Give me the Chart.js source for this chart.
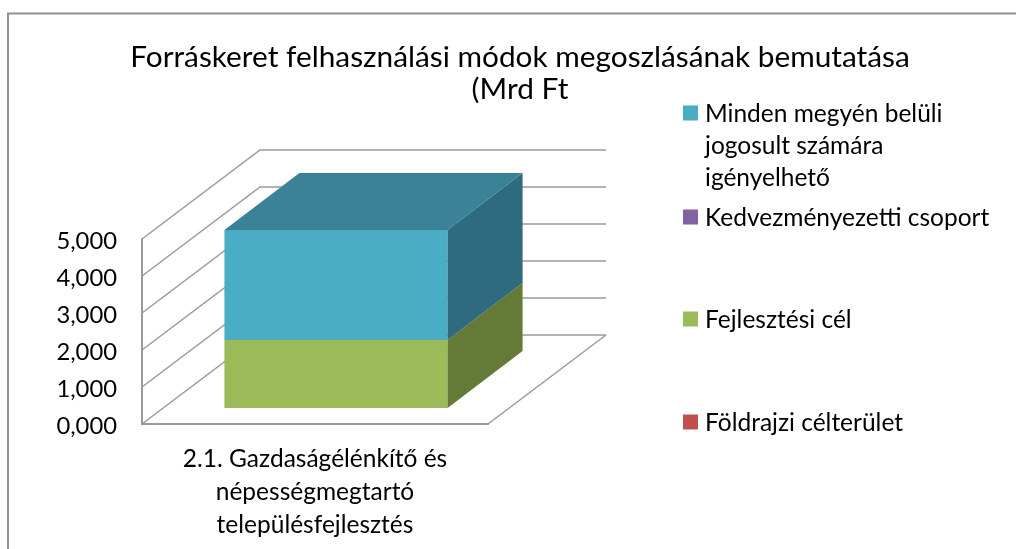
<!DOCTYPE html>
<html>
<head>
<meta charset="utf-8">
<title>Forráskeret felhasználási módok</title>
<script src="https://cdn.jsdelivr.net/npm/chart.js@4"></script>
<style>
    html, body { margin: 0; padding: 0; background: #fff; overflow: hidden; }
    canvas { display: block; }
</style>
</head>
<body>
<canvas id="chart" width="1016" height="549"></canvas>
<script>
// Data
const categories = [['2.1. Gazdaságélénkítő és', 'népességmegtartó', 'településfejlesztés']];
const seriesNames = ['Földrajzi célterület', 'Fejlesztési cél', 'Kedvezményezetti csoport', 'Minden megyén belüli jogosult számára igényelhető'];
const foldrajzi = [0];
const fejlesztesi = [1.84];
const kedvezmenyezetti = [0];
const mindenMegyen = [2.97];
const titleLines = ['Forráskeret felhasználási módok megoszlásának bemutatása', '(Mrd Ft'];
const legendLines = [['Földrajzi célterület'], ['Fejlesztési cél'], ['Kedvezményezetti csoport'], ['Minden megyén belüli', 'jogosult számára', 'igényelhető']];

const colors = ['#C0504D', '#9BBB59', '#8064A2', '#4BACC6'];
const sideColors = ['#7D3431', '#657A37', '#533F6B', '#2F6B7E'];
const topColors = ['#96403C', '#7A9144', '#644E80', '#3B8296'];

const fontFamily = 'Lato, Carlito, sans-serif';
const lineColor = '#9A9A9A';

// 3D look: the floor runs back this far, bars sit a bit in from the front edge
const wallDepth = { x: 118, y: 89 };
const barOffset = { x: 21, y: 16 };
const barDepth = { x: 75, y: 57 };

const backgroundPlugin = {
    id: 'frameAndTitle',
    beforeDraw(chart) {
        const ctx = chart.ctx;
        ctx.save();
        ctx.fillStyle = '#fff';
        ctx.fillRect(0, 0, chart.width, chart.height);
        // the frame is cut off by the screenshot: only left and top edges show
        ctx.strokeStyle = '#8F8F8F';
        ctx.lineWidth = 2;
        ctx.beginPath();
        ctx.moveTo(8, chart.height);
        ctx.lineTo(8, 13.5);
        ctx.lineTo(chart.width, 13.5);
        ctx.stroke();

        ctx.fillStyle = '#000';
        ctx.font = '29.8px ' + fontFamily;
        ctx.textAlign = 'center';
        ctx.textBaseline = 'middle';
        titleLines.forEach((line, i) => ctx.fillText(line, 520, 57 + i * 32));
        ctx.restore();
    }
};

const walls3dPlugin = {
    id: 'walls3d',
    beforeDatasetsDraw(chart) {
        const ctx = chart.ctx;
        const { x: xScale, y: yScale } = chart.scales;
        ctx.save();
        ctx.strokeStyle = lineColor;
        ctx.lineWidth = 1.5;
        yScale.ticks.forEach(tick => {
            const y = yScale.getPixelForValue(tick.value);
            ctx.beginPath();
            ctx.moveTo(xScale.left, y);
            ctx.lineTo(xScale.left + wallDepth.x, y - wallDepth.y);
            ctx.lineTo(xScale.right + wallDepth.x, y - wallDepth.y);
            ctx.stroke();
        });
        // floor edge on the right
        ctx.beginPath();
        ctx.moveTo(xScale.right, yScale.bottom);
        ctx.lineTo(xScale.right + wallDepth.x, yScale.bottom - wallDepth.y);
        ctx.stroke();
        ctx.restore();

        // front faces are drawn by the library, just moved in from the axis edge
        ctx.save();
        ctx.translate(barOffset.x, -barOffset.y);
    },
    afterDatasetsDraw(chart) {
        const ctx = chart.ctx;
        ctx.restore();

        let topIndex = -1;
        chart.data.datasets.forEach((ds, i) => {
            if (ds.data[0] > 0) topIndex = i;
        });
        chart.data.datasets.forEach((ds, i) => {
            if (!(ds.data[0] > 0)) return;
            const bar = chart.getDatasetMeta(i).data[0].getProps(['x', 'y', 'base', 'width'], true);
            const left = bar.x - bar.width / 2 + barOffset.x;
            const right = bar.x + bar.width / 2 + barOffset.x;
            const topY = bar.y - barOffset.y;
            const baseY = bar.base - barOffset.y;

            ctx.fillStyle = sideColors[i];
            ctx.beginPath();
            ctx.moveTo(right, topY);
            ctx.lineTo(right + barDepth.x, topY - barDepth.y);
            ctx.lineTo(right + barDepth.x, baseY - barDepth.y);
            ctx.lineTo(right, baseY);
            ctx.closePath();
            ctx.fill();

            if (i === topIndex) {
                ctx.fillStyle = topColors[i];
                ctx.beginPath();
                ctx.moveTo(left, topY);
                ctx.lineTo(left + barDepth.x, topY - barDepth.y);
                ctx.lineTo(right + barDepth.x, topY - barDepth.y);
                ctx.lineTo(right, topY);
                ctx.closePath();
                ctx.fill();
            }
        });
    }
};

// Legend items are spaced unevenly in the original, so it is drawn by hand
const legendPlugin = {
    id: 'sideLegend',
    afterDraw(chart) {
        const ctx = chart.ctx;
        const itemY = [422, 319, 217, 113];
        ctx.save();
        ctx.font = '24.5px ' + fontFamily;
        ctx.textBaseline = 'middle';
        ctx.textAlign = 'left';
        legendLines.forEach((lines, i) => {
            ctx.fillStyle = colors[i];
            ctx.fillRect(683, itemY[i] - 7.5, 15, 15);
            ctx.fillStyle = '#000';
            lines.forEach((line, j) => ctx.fillText(line, 705, itemY[i] + 1 + j * 32));
        });
        ctx.restore();
    }
};

const makeDataset = (i, values) => ({
    label: seriesNames[i],
    data: values,
    backgroundColor: colors[i],
    borderWidth: 0,
    barPercentage: 0.645,
    categoryPercentage: 1
});

new Chart(document.getElementById('chart'), {
    type: 'bar',
    data: {
        labels: categories,
        datasets: [
            makeDataset(0, foldrajzi),
            makeDataset(1, fejlesztesi),
            makeDataset(2, kedvezmenyezetti),
            makeDataset(3, mindenMegyen)
        ]
    },
    plugins: [backgroundPlugin, walls3dPlugin, legendPlugin],
    options: {
        responsive: false,
        animation: false,
        layout: {
            padding: { left: 0, right: 528, top: 239, bottom: 5 }
        },
        plugins: {
            legend: { display: false },
            title: { display: false },
            tooltip: { enabled: false }
        },
        scales: {
            x: {
                stacked: true,
                grid: { display: false },
                border: { color: lineColor, width: 2 },
                afterFit: scale => { scale.height = 120; },
                ticks: {
                    color: '#000',
                    maxRotation: 0,
                    minRotation: 0,
                    autoSkip: false,
                    padding: 11,
                    font: { family: fontFamily, size: 24.5, lineHeight: 1.34 }
                }
            },
            y: {
                stacked: true,
                min: 0,
                max: 5,
                grid: { display: false },
                border: { color: lineColor, width: 2 },
                afterFit: scale => { scale.width = 142; },
                ticks: {
                    stepSize: 1,
                    color: '#000',
                    padding: 17,
                    labelOffset: 2,
                    font: { family: fontFamily, size: 23.8 },
                    callback: value => value.toFixed(3).replace('.', ',')
                }
            }
        }
    }
});
</script>
</body>
</html>
